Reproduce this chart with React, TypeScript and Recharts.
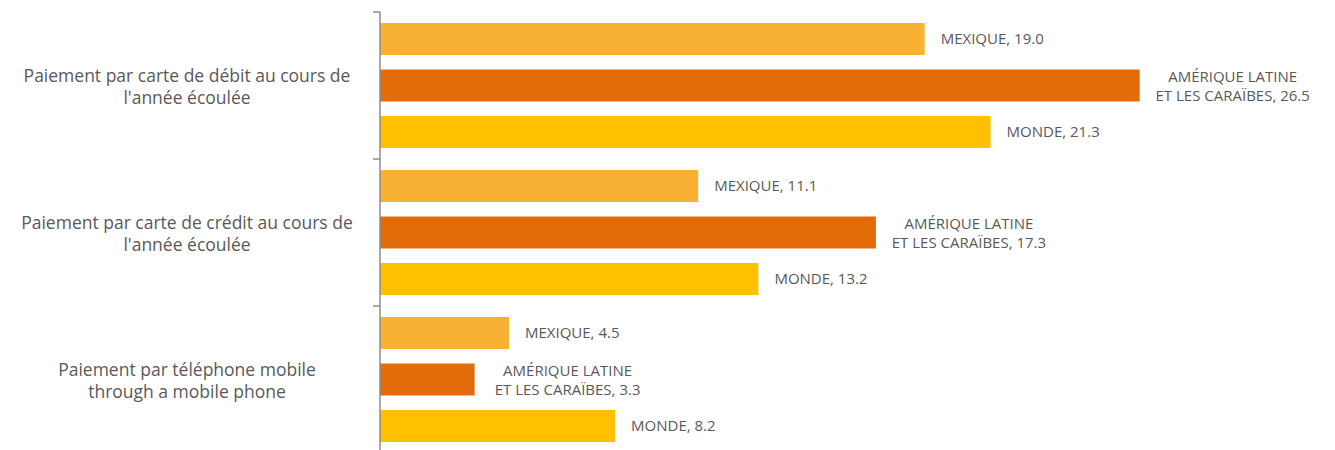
import { Bar, BarChart, LabelList, XAxis, YAxis } from "recharts";

const categories = [
  ["Paiement par carte de débit au cours de", "l'année écoulée"],
  ["Paiement par carte de crédit au cours de", "l'année écoulée"],
  ["Paiement par téléphone mobile", "through a mobile phone"],
];
const mexique = [19.0, 11.1, 4.5];
const amerique = [26.5, 17.3, 3.3];
const monde = [21.3, 13.2, 8.2];

const seriesNames = {
  mexique: ["MEXIQUE"],
  amerique: ["AMÉRIQUE LATINE", "ET LES CARAÏBES"],
  monde: ["MONDE"],
};

const data = categories.map((c, i) => ({
  key: String(i),
  mexique: mexique[i],
  amerique: amerique[i],
  monde: monde[i],
}));

const W = 1335;
const H = 453;
const M = { top: 12, right: 95, bottom: 0, left: 0 };
const AXIS_X = 380;
const BAND = (H - M.top - M.bottom) / categories.length;
const TEXT = "#595959";
const FONT = "'Open Sans', sans-serif";

function CategoryTick(props: any) {
  const { y, payload } = props;
  const lines = categories[Number(payload.value)];
  const top = y - BAND / 2;
  return (
    <g>
      <line x1={AXIS_X - 7} x2={AXIS_X} y1={top} y2={top} stroke="#8c8c8c" strokeWidth={1.5} />
      <text x={187} y={y} textAnchor="middle" fill={TEXT} fontSize={17.5} fontFamily={FONT}>
        <tspan x={187} dy={-4}>{lines[0]}</tspan>
        <tspan x={187} dy={22}>{lines[1]}</tspan>
      </text>
    </g>
  );
}

function makeLabel(name: string[]) {
  return (props: any) => {
    const { x, y, width, height, value } = props;
    const end = x + width;
    const cy = y + height / 2;
    const txt = value.toFixed(1);
    if (name.length === 1) {
      return (
        <text x={end + 16} y={cy} dy={5} fill={TEXT} fontSize={15} fontFamily={FONT}>
          {name[0] + ", " + txt}
        </text>
      );
    }
    const cx = end + 93;
    return (
      <text x={cx} y={cy} textAnchor="middle" fill={TEXT} fontSize={15} fontFamily={FONT}>
        <tspan x={cx} dy={-4}>{name[0]}</tspan>
        <tspan x={cx} dy={19}>{name[1] + ", " + txt}</tspan>
      </text>
    );
  };
}

export default function App() {
  return (
    <div style={{ position: "fixed", top: 0, left: 0, width: W, height: 450, overflow: "hidden", background: "#fff" }}>
      <BarChart width={W} height={H} data={data} layout="vertical" margin={M} barSize={32} barGap={14.5}>
        <XAxis type="number" domain={[0, 30]} hide />
        <YAxis
          type="category"
          dataKey="key"
          width={AXIS_X}
          tickLine={false}
          axisLine={{ stroke: "#8c8c8c", strokeWidth: 1.5 }}
          tick={<CategoryTick />}
          interval={0}
        />
        <Bar dataKey="mexique" fill="#F8B133" isAnimationActive={false}>
          <LabelList dataKey="mexique" content={makeLabel(seriesNames.mexique)} />
        </Bar>
        <Bar dataKey="amerique" fill="#E36C0A" isAnimationActive={false}>
          <LabelList dataKey="amerique" content={makeLabel(seriesNames.amerique)} />
        </Bar>
        <Bar dataKey="monde" fill="#FFC000" isAnimationActive={false}>
          <LabelList dataKey="monde" content={makeLabel(seriesNames.monde)} />
        </Bar>
      </BarChart>
    </div>
  );
}
